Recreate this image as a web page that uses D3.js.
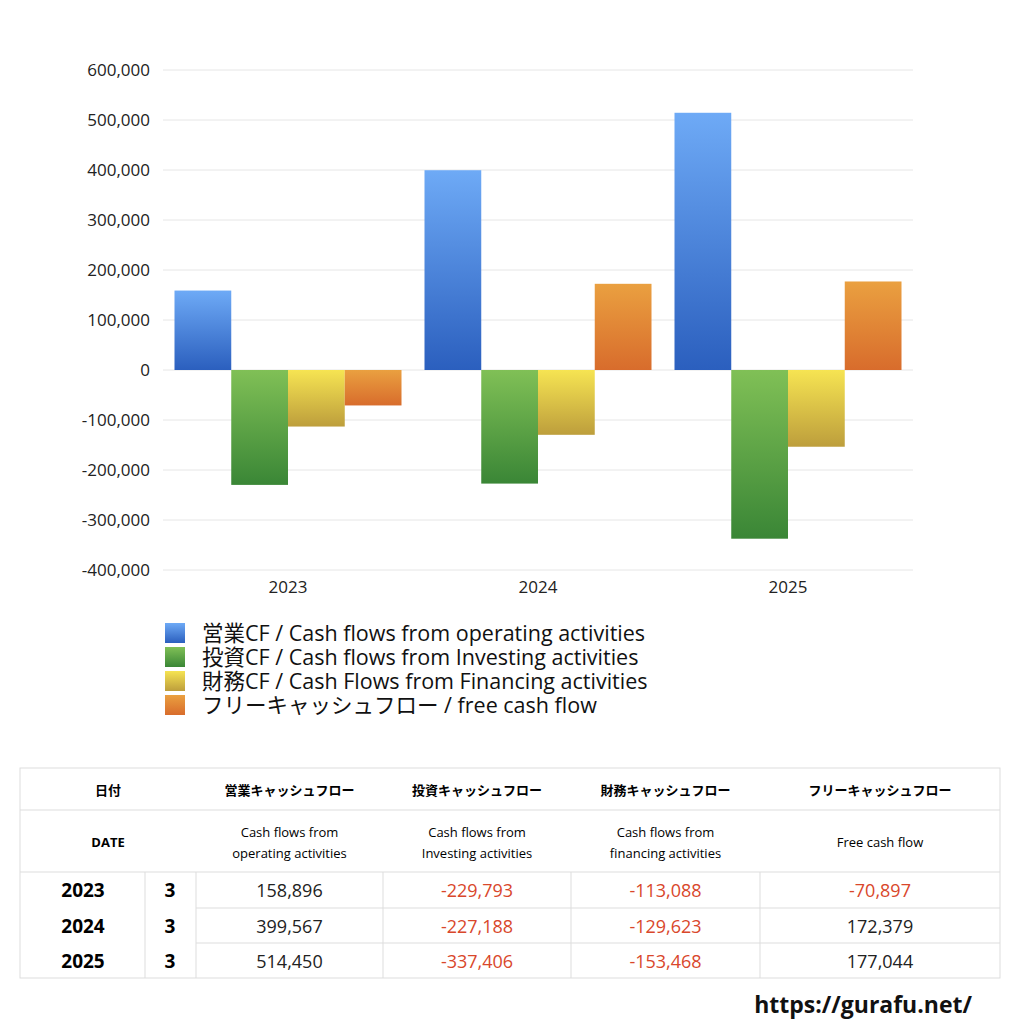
<!DOCTYPE html><html><head><meta charset="utf-8"><script src="https://cdn.jsdelivr.net/npm/d3@7"></script>
<style>body{margin:0;background:#fff}svg{font-family:"Open Sans","Noto Sans CJK JP",sans-serif}</style></head><body><svg id="c" width="1024" height="1024"></svg><script>
const years=["2023","2024","2025"];
const months=["3","3","3"];
const operating=[158896,399567,514450];
const investing=[-229793,-227188,-337406];
const financing=[-113088,-129623,-153468];
const freecf=[-70897,172379,177044];
const seriesNames=["営業CF / Cash flows from operating activities","投資CF / Cash flows from Investing activities","財務CF / Cash Flows from Financing activities","フリーキャッシュフロー / free cash flow"];
const yTicks=[600000,500000,400000,300000,200000,100000,0,-100000,-200000,-300000,-400000];
const grads=[["#6eaaf6","#2b5fbe"],["#80c056","#3a8636"],["#f6e452","#bd9e3c"],["#eaa040","#d86c2c"]];
const fmt=v=>d3.format(",")(v).replace("−","-");
const svg=d3.select("#c");
const defs=svg.append("defs");
grads.forEach((g,i)=>{const lg=defs.append("linearGradient").attr("id","g"+i).attr("x1",0).attr("y1",0).attr("x2",0).attr("y2",1);
lg.append("stop").attr("offset","0%").attr("stop-color",g[0]);lg.append("stop").attr("offset","100%").attr("stop-color",g[1]);});
const y=d3.scaleLinear().domain([-400000,600000]).range([570,70]);
const x=d3.scaleBand().domain(years).range([163,913]).paddingInner(0.092).paddingOuter(0.046);
const xs=d3.scaleBand().domain([0,1,2,3]).range([0,x.bandwidth()]);
svg.append("g").selectAll("line").data(yTicks).join("line").attr("x1",163).attr("x2",913).attr("y1",d=>y(d)).attr("y2",d=>y(d)).attr("stroke","#e6e6e6");
svg.append("g").selectAll("text").data(yTicks).join("text").attr("x",150).attr("y",d=>y(d)+6).attr("text-anchor","end").attr("font-size",17).attr("fill","#222").text(fmt);
const series=[operating,investing,financing,freecf];
series.forEach((s,i)=>{svg.append("g").selectAll("rect").data(s).join("rect")
.attr("x",(d,j)=>x(years[j])+xs(i)).attr("width",xs.bandwidth())
.attr("y",d=>y(Math.max(0,d))).attr("height",d=>Math.abs(y(d)-y(0))).attr("fill",`url(#g${i})`);});
svg.append("g").selectAll("text").data(years).join("text").attr("x",d=>x(d)+x.bandwidth()/2).attr("y",593).attr("text-anchor","middle").attr("font-size",17).attr("fill","#222").text(d=>d);
const lg=svg.append("g");
seriesNames.forEach((n,i)=>{lg.append("rect").attr("x",165).attr("y",623+i*24).attr("width",20).attr("height",20).attr("fill",`url(#g${i})`);
lg.append("text").attr("x",202).attr("y",641+i*24).attr("font-size",21.5).attr("fill","#111").text(n);});
const t=svg.append("g");
const cols=[20,145,196,383,571,760,1000];
const rowsY=[768,810,872,908,943,978];
t.append("rect").attr("x",20).attr("y",768).attr("width",980).attr("height",210).attr("fill","none").attr("stroke","#ddd");
[810,872].forEach(v=>t.append("line").attr("x1",20).attr("x2",1000).attr("y1",v).attr("y2",v).attr("stroke","#ddd"));
[908,943].forEach(v=>t.append("line").attr("x1",196).attr("x2",1000).attr("y1",v).attr("y2",v).attr("stroke","#ddd"));
[145,196,383,571,760].forEach(v=>t.append("line").attr("x1",v).attr("x2",v).attr("y1",872).attr("y2",978).attr("stroke","#ddd"));
const h1=["営業キャッシュフロー","投資キャッシュフロー","財務キャッシュフロー","フリーキャッシュフロー"];
const h2=[["Cash flows from","operating activities"],["Cash flows from","Investing activities"],["Cash flows from","financing activities"],["Free cash flow"]];
t.append("text").attr("x",108).attr("y",795).attr("text-anchor","middle").attr("font-size",13).attr("font-weight","bold").text("日付");
t.append("text").attr("x",108).attr("y",847).attr("text-anchor","middle").attr("font-size",13).attr("font-weight","bold").text("DATE");
h1.forEach((h,i)=>{const cx=(cols[i+2]+cols[i+3])/2;
t.append("text").attr("x",cx).attr("y",795).attr("text-anchor","middle").attr("font-size",13).attr("font-weight","bold").text(h);
h2[i].forEach((l,k)=>t.append("text").attr("x",cx).attr("y",h2[i].length==1?847:837+k*21).attr("text-anchor","middle").attr("font-size",13).text(l));});
years.forEach((yr,j)=>{const cy=rowsY[2+j]+25;
t.append("text").attr("x",83).attr("y",cy).attr("text-anchor","middle").attr("font-size",19).attr("font-weight","bold").text(yr);
t.append("text").attr("x",170).attr("y",cy).attr("text-anchor","middle").attr("font-size",19).attr("font-weight","bold").text(months[j]);
series.forEach((s,i)=>{const cx=(cols[i+2]+cols[i+3])/2;
t.append("text").attr("x",cx).attr("y",cy).attr("text-anchor","middle").attr("font-size",18).attr("fill",s[j]<0?"#d9472b":"#222").text(fmt(s[j]));});});
svg.append("text").attr("x",972).attr("y",1013).attr("text-anchor","end").attr("font-size",23).attr("font-weight","bold").attr("fill","#111").text("https://gurafu.net/");
</script></body></html>
